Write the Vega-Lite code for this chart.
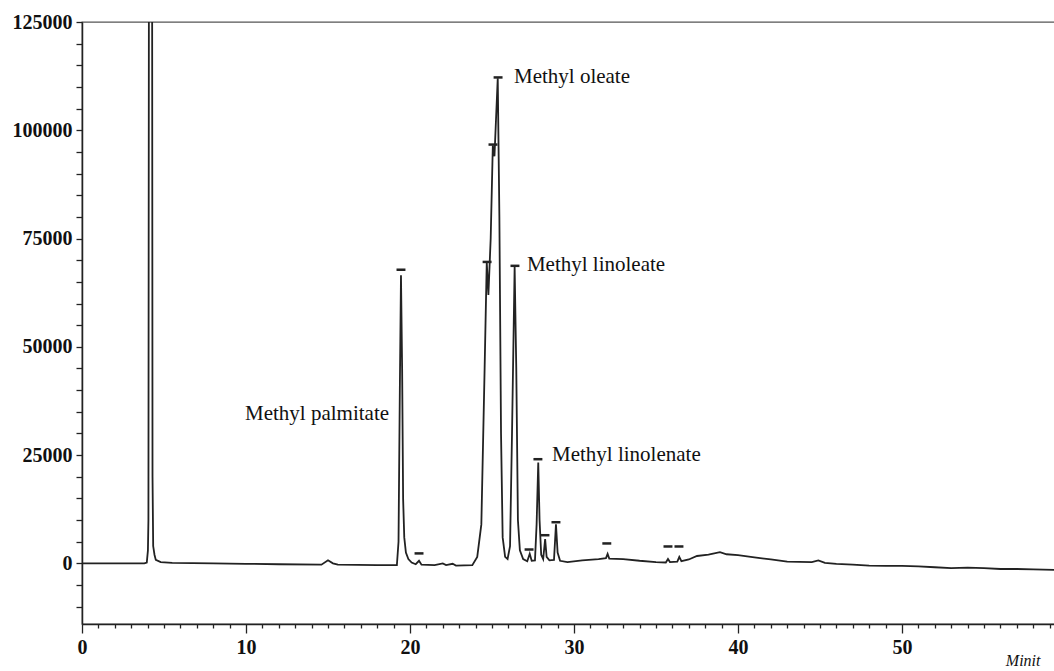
{
  "$schema": "https://vega.github.io/schema/vega-lite/v6.json",
  "width": 974,
  "height": 602,
  "autosize": {"type": "none"},
  "padding": {"left": 82, "top": 22, "right": 0, "bottom": 47},
  "background": "white",
  "config": {
    "view": {"stroke": "#555", "strokeWidth": 1.3},
    "axis": {"grid": false, "domainColor": "#222", "domainWidth": 1.5, "tickColor": "#222", "tickWidth": 1.3, "labelColor": "#111", "labelFont": "Liberation Serif", "labelFontWeight": "bold", "labelFontSize": 20, "labelOverlap": false, "labelBound": false, "tickCount": 200}
  },
  "datasets": {
    "trace": [
      {"t": 0, "v": 0}, {"t": 2, "v": 0}, {"t": 3.8, "v": 0}, {"t": 3.95, "v": 200}, {"t": 4.02, "v": 3000},
      {"t": 4.05, "v": 10000}, {"t": 4.12, "v": 300000}, {"t": 4.24, "v": 300000}, {"t": 4.3, "v": 20000},
      {"t": 4.34, "v": 4000}, {"t": 4.42, "v": 2000}, {"t": 4.5, "v": 800}, {"t": 4.8, "v": 300},
      {"t": 5.5, "v": 100}, {"t": 8, "v": 0}, {"t": 10, "v": -100}, {"t": 12, "v": -200}, {"t": 14.6, "v": -300},
      {"t": 15.0, "v": 700}, {"t": 15.3, "v": 0}, {"t": 15.6, "v": -300}, {"t": 18, "v": -400}, {"t": 19.2, "v": -400},
      {"t": 19.3, "v": 5000}, {"t": 19.38, "v": 40000}, {"t": 19.45, "v": 66500}, {"t": 19.52, "v": 45000},
      {"t": 19.58, "v": 15000}, {"t": 19.65, "v": 6000}, {"t": 19.75, "v": 2500}, {"t": 19.9, "v": 1000},
      {"t": 20.1, "v": 200}, {"t": 20.35, "v": -200}, {"t": 20.55, "v": 600}, {"t": 20.7, "v": -300},
      {"t": 21.5, "v": -400}, {"t": 22.0, "v": 0}, {"t": 22.2, "v": -400}, {"t": 22.6, "v": -100}, {"t": 22.8, "v": -500},
      {"t": 23.8, "v": -400}, {"t": 24.1, "v": 1500}, {"t": 24.35, "v": 9000}, {"t": 24.55, "v": 45000},
      {"t": 24.68, "v": 69500}, {"t": 24.78, "v": 62000}, {"t": 24.92, "v": 75000}, {"t": 25.05, "v": 96500},
      {"t": 25.15, "v": 94000}, {"t": 25.35, "v": 112000}, {"t": 25.45, "v": 80000}, {"t": 25.55, "v": 30000},
      {"t": 25.65, "v": 6000}, {"t": 25.8, "v": 1500}, {"t": 25.95, "v": 1000}, {"t": 26.1, "v": 4000},
      {"t": 26.22, "v": 30000}, {"t": 26.38, "v": 68500}, {"t": 26.48, "v": 45000}, {"t": 26.58, "v": 10000},
      {"t": 26.7, "v": 3000}, {"t": 26.9, "v": 1000}, {"t": 27.15, "v": 500}, {"t": 27.3, "v": 2200},
      {"t": 27.42, "v": 600}, {"t": 27.62, "v": 700}, {"t": 27.72, "v": 9000}, {"t": 27.82, "v": 23300},
      {"t": 27.9, "v": 10000}, {"t": 28.0, "v": 2000}, {"t": 28.12, "v": 1000}, {"t": 28.24, "v": 5600},
      {"t": 28.33, "v": 1500}, {"t": 28.5, "v": 700}, {"t": 28.78, "v": 800}, {"t": 28.9, "v": 9000},
      {"t": 29.0, "v": 2500}, {"t": 29.15, "v": 600}, {"t": 29.6, "v": 300}, {"t": 30.5, "v": 700},
      {"t": 31.5, "v": 1000}, {"t": 31.95, "v": 1200}, {"t": 32.05, "v": 2200}, {"t": 32.15, "v": 1100},
      {"t": 33, "v": 1000}, {"t": 34, "v": 600}, {"t": 35, "v": 300}, {"t": 35.6, "v": 200}, {"t": 35.73, "v": 1000},
      {"t": 35.85, "v": 300}, {"t": 36.3, "v": 400}, {"t": 36.42, "v": 1500}, {"t": 36.55, "v": 500},
      {"t": 37.0, "v": 900}, {"t": 37.5, "v": 1700}, {"t": 38.2, "v": 2000}, {"t": 38.9, "v": 2600},
      {"t": 39.3, "v": 2100}, {"t": 40, "v": 1900}, {"t": 41, "v": 1400}, {"t": 42, "v": 900}, {"t": 43, "v": 400},
      {"t": 44.5, "v": 300}, {"t": 44.9, "v": 700}, {"t": 45.3, "v": 100}, {"t": 46, "v": -100}, {"t": 47, "v": -300},
      {"t": 48, "v": -500}, {"t": 49, "v": -600}, {"t": 50, "v": -600}, {"t": 51, "v": -700}, {"t": 52, "v": -900},
      {"t": 53, "v": -1100}, {"t": 54, "v": -1000}, {"t": 55, "v": -1100}, {"t": 56, "v": -1300}, {"t": 57, "v": -1300},
      {"t": 58, "v": -1400}, {"t": 59.5, "v": -1500}
    ],
    "peaks": [
      {"t": 19.45, "v": 67800}, {"t": 24.7, "v": 69600}, {"t": 25.06, "v": 96700}, {"t": 25.37, "v": 112200},
      {"t": 26.4, "v": 68700}, {"t": 27.8, "v": 24050}, {"t": 27.26, "v": 3200}, {"t": 28.23, "v": 6500},
      {"t": 28.9, "v": 9500}, {"t": 32.0, "v": 4600}, {"t": 20.55, "v": 2300}, {"t": 35.73, "v": 3900}, {"t": 36.4, "v": 3900}
    ],
    "labels": [
      {"t": 26.34, "v": 112300, "name": "Methyl oleate"},
      {"t": 27.13, "v": 69000, "name": "Methyl linoleate"},
      {"t": 9.94, "v": 34500, "name": "Methyl palmitate"},
      {"t": 28.66, "v": 25000, "name": "Methyl linolenate"}
    ]
  },
  "layer": [
    {
      "data": {"name": "trace"},
      "mark": {"type": "line", "clip": true, "color": "#222", "strokeWidth": 1.8},
      "encoding": {
        "x": {"field": "t", "type": "quantitative", "scale": {"domain": [0, 59.39], "nice": false, "zero": false},
          "axis": {"values": [0,1,2,3,4,5,6,7,8,9,10,11,12,13,14,15,16,17,18,19,20,21,22,23,24,25,26,27,28,29,30,31,32,33,34,35,36,37,38,39,40,41,42,43,44,45,46,47,48,49,50,51,52,53,54,55,56,57,58,59],
            "tickCount": 200, "format": "d",
            "labelExpr": "datum.value % 10 === 0 ? datum.label : ''",
            "tickSize": {"condition": {"test": "datum.value % 10 === 0", "value": 9}, "value": 4},
            "labelPadding": 4, "labelFlush": false,
            "title": "Minit", "titleFont": "Liberation Serif", "titleFontStyle": "italic", "titleFontWeight": "normal", "titleFontSize": 16, "titleColor": "#111",
            "titleAnchor": "end", "titleAlign": "right", "titleBaseline": "middle", "titleX": 958, "titleY": 36}},
        "y": {"field": "v", "type": "quantitative", "scale": {"domain": [-14000, 125000], "nice": false, "zero": false},
          "axis": {"values": [-10000,-5000,0,5000,10000,15000,20000,25000,30000,35000,40000,45000,50000,55000,60000,65000,70000,75000,80000,85000,90000,95000,100000,105000,110000,115000,120000,125000],
            "tickCount": 200,
            "format": "d", "labelExpr": "datum.value % 25000 === 0 ? datum.label : ''",
            "tickSize": 6, "labelPadding": 4, "labelFlush": false, "title": null}}
      }
    },
    {
      "data": {"name": "peaks"},
      "mark": {"type": "point", "shape": "stroke", "filled": false, "color": "#222", "strokeWidth": 2.5, "size": 80, "opacity": 1},
      "encoding": {
        "x": {"field": "t", "type": "quantitative"},
        "y": {"field": "v", "type": "quantitative"}
      }
    },
    {
      "data": {"name": "labels"},
      "mark": {"type": "text", "align": "left", "baseline": "middle", "font": "Liberation Serif", "fontSize": 21, "color": "#111"},
      "encoding": {
        "x": {"field": "t", "type": "quantitative"},
        "y": {"field": "v", "type": "quantitative"},
        "text": {"field": "name"}
      }
    }
  ]
}
